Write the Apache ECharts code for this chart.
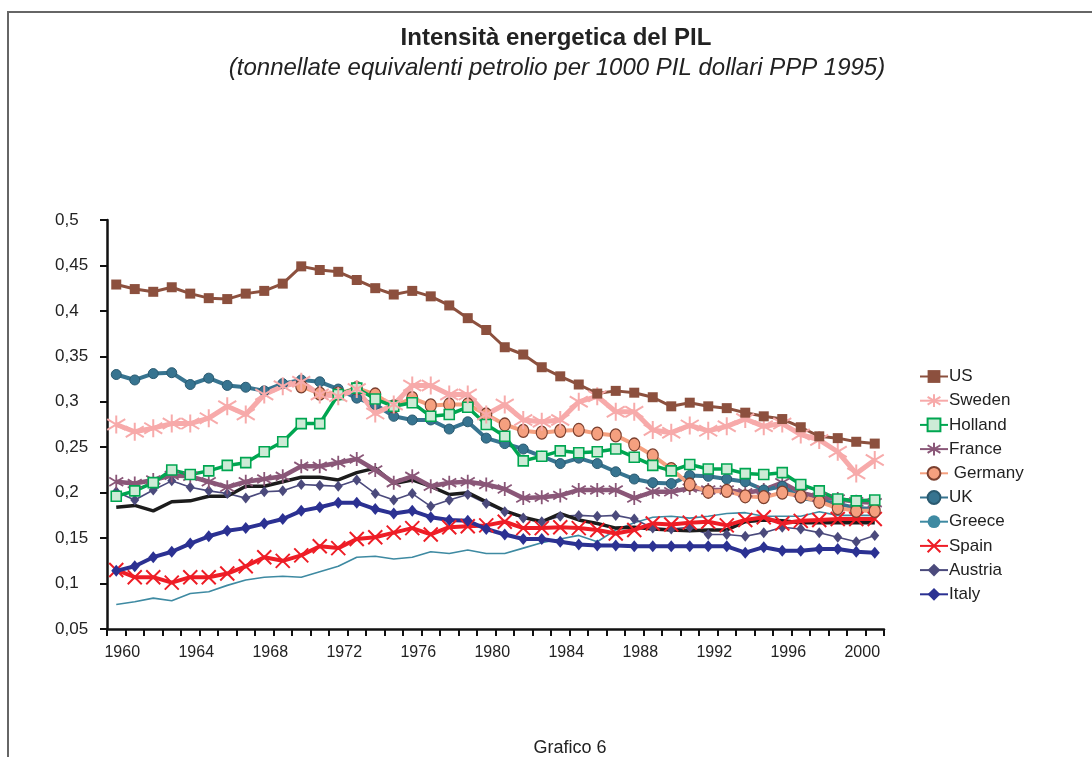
<!DOCTYPE html>
<html>
<head>
<meta charset="utf-8">
<script src="https://cdn.jsdelivr.net/npm/echarts@6/dist/echarts.min.js"></script>
<style>
html,body{margin:0;padding:0;background:#fff;}
#chart{width:1092px;height:757px;}
</style>
</head>
<body>
<div id="chart"></div>
<script>
const years = [];
for (let y = 1960; y <= 2001; y++) years.push(String(y));

const titleText = 'Intensità energetica del PIL';
const subtitleText = '(tonnellate equivalenti petrolio per 1000 PIL dollari PPP 1995)';
const footerText = 'Grafico 6';

const legendNames = ['US', 'Sweden', 'Holland', 'France', ' Germany', 'UK', 'Greece', 'Spain', 'Austria', 'Italy'];

const us = [0.429,0.424,0.421,0.426,0.419,0.414,0.413,0.419,0.422,0.430,
  0.449,0.445,0.443,0.434,0.425,0.418,0.422,0.416,0.406,0.392,
  0.379,0.360,0.352,0.338,0.328,0.319,0.309,0.312,0.310,0.305,
  0.295,0.299,0.295,0.293,0.288,0.284,0.281,0.272,0.262,0.260,
  0.256,0.254];
const sweden = [0.275,0.267,0.271,0.276,0.276,0.282,0.295,0.286,0.308,0.317,
  0.322,0.308,0.306,0.314,0.287,0.297,0.318,0.318,0.308,0.308,
  0.286,0.297,0.280,0.278,0.280,0.300,0.306,0.289,0.289,0.269,
  0.266,0.274,0.268,0.273,0.281,0.273,0.276,0.264,0.258,0.245,
  0.221,0.236];
const holland = [0.196,0.202,0.211,0.225,0.220,0.224,0.230,0.233,0.245,0.256,
  0.276,0.276,0.308,0.315,0.303,0.295,0.299,0.284,0.286,0.294,
  0.275,0.262,0.235,0.240,0.246,0.244,0.245,0.248,0.239,0.230,
  0.224,0.231,0.226,0.226,0.221,0.220,0.222,0.209,0.202,0.193,
  0.191,0.192];
const france = [0.212,0.210,0.214,0.219,0.218,0.212,0.206,0.212,0.215,0.218,
  0.229,0.229,0.233,0.237,0.225,0.211,0.218,0.207,0.211,0.212,
  0.209,0.204,0.194,0.195,0.197,0.203,0.203,0.203,0.194,0.201,
  0.201,0.205,0.203,0.203,0.200,0.203,0.211,0.200,0.195,0.193,
  0.190,0.189];
const germany = ['-','-','-','-','-','-','-','-','-','-',
  0.317,0.309,0.309,0.315,0.308,0.295,0.304,0.296,0.297,0.297,
  0.286,0.275,0.268,0.266,0.268,0.269,0.265,0.263,0.253,0.241,
  0.226,0.209,0.201,0.202,0.196,0.195,0.200,0.196,0.190,0.183,
  0.180,0.180];
const uk = [0.330,0.324,0.331,0.332,0.319,0.326,0.318,0.316,0.312,0.320,
  0.324,0.322,0.314,0.304,0.297,0.284,0.280,0.280,0.270,0.278,
  0.260,0.254,0.248,0.240,0.232,0.238,0.232,0.223,0.215,0.211,
  0.210,0.219,0.218,0.215,0.212,0.203,0.207,0.194,0.191,0.188,
  0.183,0.182];
const unlabeled = [0.184,0.186,0.180,0.190,0.191,0.196,0.196,0.207,0.207,0.212,
  0.217,0.217,0.214,0.222,0.227,0.210,0.214,0.207,0.198,0.200,
  0.190,0.180,0.173,0.168,0.177,0.170,0.166,0.161,0.162,0.160,
  0.159,0.158,0.159,0.159,0.168,0.170,0.169,0.167,0.167,0.167,
  0.167,0.167];
const greece = [0.077,0.080,0.084,0.081,0.089,0.091,0.098,0.104,0.107,0.108,
  0.107,0.113,0.119,0.129,0.130,0.127,0.129,0.135,0.133,0.137,
  0.133,0.133,0.139,0.145,0.149,0.153,0.146,0.159,0.167,0.173,
  0.174,0.172,0.174,0.177,0.178,0.174,0.174,0.174,0.179,0.175,
  0.175,0.175];
const spain = [0.115,0.107,0.107,0.101,0.107,0.107,0.111,0.119,0.129,0.125,
  0.131,0.141,0.139,0.149,0.151,0.156,0.161,0.154,0.162,0.163,
  0.164,0.168,0.161,0.161,0.162,0.161,0.159,0.155,0.159,0.166,
  0.165,0.167,0.168,0.164,0.170,0.173,0.166,0.169,0.170,0.171,
  0.171,0.171];
const austria = [0.201,0.192,0.203,0.213,0.206,0.202,0.199,0.194,0.201,0.202,
  0.209,0.208,0.207,0.214,0.199,0.192,0.199,0.185,0.192,0.198,
  0.188,0.179,0.172,0.168,0.174,0.175,0.174,0.175,0.171,0.161,
  0.160,0.162,0.154,0.154,0.152,0.156,0.162,0.160,0.156,0.151,
  0.146,0.153];
const italy = [0.114,0.119,0.129,0.135,0.144,0.152,0.158,0.161,0.166,0.171,
  0.180,0.184,0.189,0.189,0.182,0.177,0.180,0.173,0.170,0.169,
  0.160,0.154,0.149,0.149,0.146,0.143,0.142,0.142,0.141,0.141,
  0.141,0.141,0.141,0.141,0.134,0.140,0.136,0.136,0.138,0.138,
  0.135,0.134];

const asterisk = 'path://M0,-10L0,10M-8,-6L8,6M-8,6L8,-6';
const xMark = 'path://M-8,-8L8,8M-8,8L8,-8';

function line(name, data, color, width, extra) {
  return Object.assign({
    name: name,
    type: 'line',
    data: data,
    showAllSymbol: true,
    lineStyle: { color: color, width: width },
    itemStyle: { color: color },
    emphasis: { disabled: true }
  }, extra || {});
}

const series = [
  line('Greece', greece, '#3E8AA2', 1.6, { showSymbol: false, symbol: 'none' }),
  line('Austria', austria, '#4B4A7C', 1.6, { symbol: 'diamond', symbolSize: [9, 11], itemStyle: { color: '#4B4A7C' } }),
  line('__avg', unlabeled, '#1c1c1c', 3.5, { showSymbol: false, symbol: 'none' }),
  line('Spain', spain, '#EE1D26', 4, { symbol: xMark, symbolSize: 14, itemStyle: { color: '#EE1D26', borderColor: '#EE1D26', borderWidth: 2 } }),
  line('Italy', italy, '#2B3192', 4, { symbol: 'diamond', symbolSize: [10, 12] }),
  line('France', france, '#8A5778', 4.5, { symbol: asterisk, symbolSize: 14, itemStyle: { color: '#8A5778', borderColor: '#8A5778', borderWidth: 1.8 } }),
  line('UK', uk, '#377490', 4, { symbol: 'circle', symbolSize: 10, itemStyle: { color: '#377490', borderColor: '#2A5A70', borderWidth: 1 } }),
  line(' Germany', germany, '#F5A07F', 4, { symbol: 'circle', symbolSize: [11, 13], itemStyle: { color: '#F5A07F', borderColor: '#7A3F2E', borderWidth: 1.2 } }),
  line('Holland', holland, '#00A651', 3.5, { symbol: 'rect', symbolSize: 10, itemStyle: { color: '#CDEBD6', borderColor: '#00A651', borderWidth: 1.6 } }),
  line('Sweden', sweden, '#F7AAAA', 5, { symbol: asterisk, symbolSize: 18, itemStyle: { color: '#F7AAAA', borderColor: '#F7AAAA', borderWidth: 2 } }),
  line('US', us, '#8C503E', 3, { symbol: 'rect', symbolSize: 10 })
];

const chart = echarts.init(document.getElementById('chart'), null, { renderer: 'canvas' });
const font = 'Liberation Sans, Arial, Helvetica, sans-serif';
chart.setOption({
  animation: false,
  backgroundColor: '#ffffff',
  textStyle: { fontFamily: font },
  graphic: [
    { type: 'polyline', shape: { points: [[8, 757], [8, 12], [1092, 12]] }, style: { stroke: '#666666', lineWidth: 2, fill: null } },
    { type: 'text', x: 556, y: 38, style: { text: titleText, font: 'bold 24px ' + font, fill: '#222', align: 'center', verticalAlign: 'middle' } },
    { type: 'text', x: 557, y: 68, style: { text: subtitleText, font: 'italic 24px ' + font, fill: '#222', align: 'center', verticalAlign: 'middle' } },
    { type: 'text', x: 570, y: 748, style: { text: footerText, font: '18px ' + font, fill: '#222', align: 'center', verticalAlign: 'middle' } }
  ],
  legend: {
    data: legendNames,
    orient: 'vertical',
    left: 914,
    top: 363,
    itemWidth: 28,
    itemHeight: 16,
    itemGap: 7.2,
    textStyle: { fontSize: 17, lineHeight: 15, height: 15, color: '#222', fontFamily: font, padding: [0, 0, 0, -4] },
    selectedMode: false
  },
  grid: { left: 107, right: 208, top: 220, bottom: 128, containLabel: false },
  xAxis: {
    type: 'category',
    data: years,
    boundaryGap: true,
    axisLine: { lineStyle: { color: '#111', width: 2.5 } },
    axisTick: { show: true, interval: 0, length: 7, lineStyle: { color: '#111', width: 2 } },
    axisLabel: { interval: 3, fontSize: 16, color: '#222', margin: 16, padding: [0, 0, 0, 12] },
    splitLine: { show: false }
  },
  yAxis: {
    type: 'value',
    min: 0.05,
    max: 0.5,
    interval: 0.05,
    axisLine: { show: true, lineStyle: { color: '#111', width: 2.5 } },
    axisTick: { show: true, length: 7, lineStyle: { color: '#111', width: 2 } },
    axisLabel: {
      fontSize: 17, color: '#222', align: 'left', margin: 52,
      formatter: function (v) { return String(+v.toFixed(2)).replace('.', ','); }
    },
    splitLine: { show: false }
  },
  series: series
});
</script>
</body>
</html>
